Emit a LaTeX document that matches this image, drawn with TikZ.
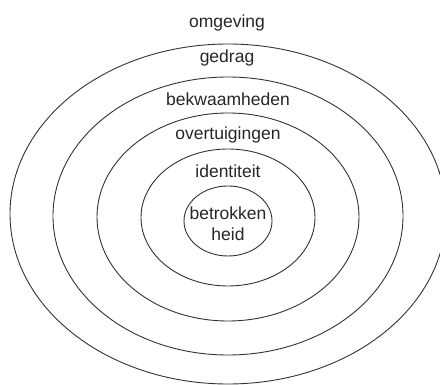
\documentclass[tikz,border=0pt]{standalone}
\usepackage{fontspec}
\setmainfont{Liberation Sans}
\usepackage{tikz}
\tikzset{
  ring/.style={line width=0.9pt, draw=black!80},
  layer/.style={inner sep=0pt, text=black!85, font=\fontsize{17.5}{21}\selectfont, align=center}
}

\begin{document}
\begin{tikzpicture}[x=1pt, y=-1pt]
		\useasboundingbox (0,0) rectangle (440,385);
		% ringen van buiten naar binnen
		\foreach \cy/\rx/\ry in {214/218/170, 216/175/139, 217/131/104, 217.5/87/68.5, 221/44/35}
			\draw[ring] (228,\cy) ellipse [x radius=\rx, y radius=\ry];
		% teksten
		\node[layer] (omgeving) at (227,23) {omgeving};
		\node[layer] (gedrag) at (227,58) {gedrag};
		\node[layer] (bekwaam) at (228,99) {bekwaamheden};
		\node[layer] (overtuig) at (228,135) {overtuigingen};
		\node[layer] (identiteit) at (228,171) {identiteit};
		\node[layer] (betrokken) at (228,224) {betrokken\\heid};
	\end{tikzpicture}
\end{document}
